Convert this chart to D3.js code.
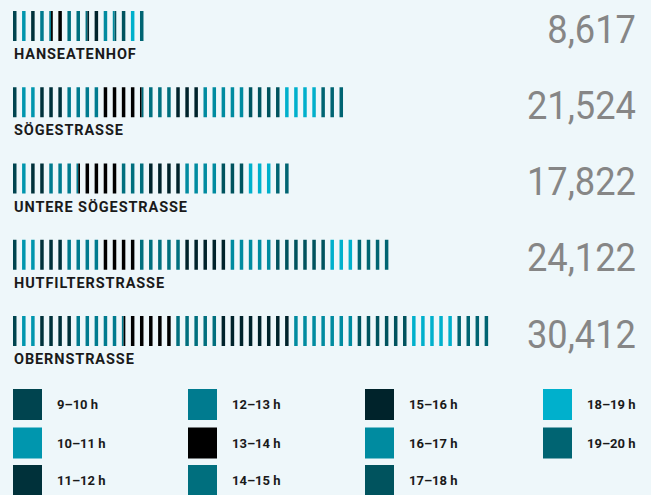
<!DOCTYPE html>
<html>
<head>
<meta charset="utf-8">
<script src="https://cdn.jsdelivr.net/npm/d3@7"></script>
<style>
  html, body { margin: 0; padding: 0; background: #eef7fa; }
  svg { display: block; }
  text { font-family: Roboto, "Noto Sans", sans-serif; }
</style>
</head>
<body>
<div id="chart"></div>
<script>
// hour slots and their colours
const hours = ["9–10 h", "10–11 h", "11–12 h", "12–13 h", "13–14 h", "14–15 h",
               "15–16 h", "16–17 h", "17–18 h", "18–19 h", "19–20 h"];
const hourColors = ["#00444f", "#0096ae", "#00313a", "#007b8f", "#000000", "#006f7e",
                    "#00232b", "#008ba0", "#00535e", "#00b0cc", "#006472"];

const streets = ["HANSEATENHOF", "SÖGESTRASSE", "UNTERE SÖGESTRASSE", "HUTFILTERSTRASSE", "OBERNSTRASSE"];

// passers-by per hour (9–10 h ... 19–20 h)
const hanseatenhof     = [575, 570, 580, 860, 865, 1440, 860, 865, 855, 575, 572];
const soegestrasse     = [580, 1170, 1740, 2330, 2610, 2040, 1750, 2900, 2330, 2320, 1754];
const untereSoege      = [578, 570, 1150, 2015, 2585, 1722, 2300, 2305, 1720, 1729, 1148];
const hutfilterstrasse = [570, 1155, 1720, 2300, 2290, 2880, 2865, 2870, 3450, 1725, 2297];
const obernstrasse     = [570, 1150, 2300, 3150, 3160, 2865, 4595, 4010, 3450, 2870, 2292];

const hourly = [hanseatenhof, soegestrasse, untereSoege, hutfilterstrasse, obernstrasse];

// one stroke stands for roughly this many people
const perBar = 575;

const width = 651, height = 495;
const barW = 3.5;

const svg = d3.select("#chart").append("svg")
  .attr("width", width)
  .attr("height", height);

svg.append("rect")
  .attr("width", width)
  .attr("height", height)
  .attr("fill", "#eef7fa");

// bar index -> pixel
const x = d3.scaleLinear().domain([0, 1]).range([13, 13 + 9.07]);
// fraction inside one stroke -> pixel
const inner = d3.scaleLinear().domain([0, 1]).range([0, barW]);

const y = d3.scaleBand()
  .domain(streets)
  .range([11, 346])
  .paddingInner(0.6066)
  .paddingOuter(0);

const fmt = d3.format(",");

streets.forEach((street, si) => {
  const values = hourly[si];
  const total = d3.sum(values);
  const n = Math.round(total / perBar);
  const k = n / total;

  // cumulative boundaries in stroke units
  const bounds = [];
  let acc = 0;
  values.forEach((v, h) => {
    bounds.push({ h, c0: acc * k, c1: (acc + v) * k });
    acc += v;
  });

  // split each stroke into the hour slots it covers
  const pieces = [];
  d3.range(n).forEach(i => {
    bounds.forEach(b => {
      const s = Math.max(b.c0, i), e = Math.min(b.c1, i + 1);
      if (e - s > 1e-6) pieces.push({ i, h: b.h, s: s - i, e: e - i });
    });
  });

  const g = svg.append("g").attr("class", "street");

  g.selectAll("rect")
    .data(pieces)
    .enter().append("rect")
    .attr("x", d => x(d.i) + inner(d.s))
    .attr("width", d => inner(d.e) - inner(d.s))
    .attr("y", y(street))
    .attr("height", y.bandwidth())
    .attr("fill", d => hourColors[d.h]);

  g.append("text")
    .attr("x", 14)
    .attr("y", y(street) + 48)
    .attr("font-size", 14.5)
    .attr("font-weight", 700)
    .attr("letter-spacing", "0.9px")
    .attr("fill", "#1a1a1a")
    .text(street);

  // totals, squeezed a little to get the narrow look of the original face
  g.append("text")
    .attr("transform", `translate(636,${y(street) + 31.5}) scale(0.93,1)`)
    .attr("text-anchor", "end")
    .attr("font-size", 39)
    .attr("fill", "#868686")
    .text(fmt(total));
});

// legend, three entries per column
const legendCols = [13, 188, 365, 543];
const legendRows = [389, 427.5, 465];

const legend = svg.append("g").attr("class", "legend")
  .selectAll("g")
  .data(hours)
  .enter().append("g")
  .attr("transform", (d, i) => `translate(${legendCols[Math.floor(i / 3)]},${legendRows[i % 3]})`);

legend.append("rect")
  .attr("width", 29)
  .attr("height", 31)
  .attr("fill", (d, i) => hourColors[i]);

legend.append("text")
  .attr("x", 44)
  .attr("y", 20)
  .attr("font-size", 13)
  .attr("font-weight", 700)
  .attr("fill", "#1a1a1a")
  .text(d => d);
</script>
</body>
</html>
